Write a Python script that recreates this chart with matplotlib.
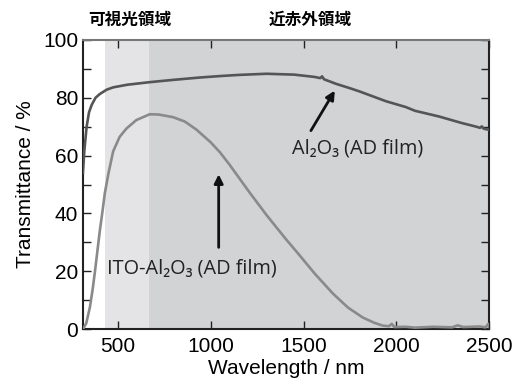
import matplotlib
matplotlib.use('Agg')
import matplotlib.pyplot as plt

# Al2O3 (AD film)
wl_al = [312, 320, 332, 345, 359, 380, 403, 440, 475, 550, 672, 800, 941, 1049, 1150,
         1300, 1450, 1560, 1590, 1600, 1610, 1676, 1750, 1801, 1944, 2050, 2100, 2231,
         2350, 2430, 2450, 2460, 2470, 2500]
t_al = [54, 62, 70, 75, 77.5, 80, 81.3, 82.8, 83.6, 84.5, 85.4, 86.2, 87.0, 87.5, 87.9,
        88.3, 88.0, 87.2, 86.8, 87.4, 86.4, 84.8, 83.3, 82.2, 78.8, 76.8, 75.5, 73.5,
        71.3, 70.0, 69.6, 70.1, 69.3, 68.9]

# ITO-Al2O3 (AD film)
wl_ito = [312, 330, 350, 365, 377, 390, 403, 418, 430, 450, 475, 510, 547, 600, 672, 720,
          797, 860, 923, 1000, 1049, 1100, 1156, 1210, 1300, 1400, 1479, 1560, 1658, 1740,
          1819, 1880, 1926, 1960, 1975, 1990, 2050, 2100, 2200, 2300, 2330, 2360, 2450,
          2480, 2495, 2500]
t_ito = [0, 2, 7.7, 14, 20, 27, 34, 41, 47, 54, 61.5, 66.5, 69.4, 72.3, 74.3, 74.2,
         73.3, 71.8, 69.0, 64.6, 61.2, 57.0, 52.0, 47.2, 39.5, 31.5, 25.5, 19.2, 12.3, 7.4,
         4.0, 2.2, 1.2, 1.0, 1.8, 0.7, 0.8, 0.5, 0.8, 0.6, 1.3, 0.7, 0.9,
         0.6, 1.8, 0.8]

vis_range = (430, 670)
nir_range = (670, 2500)

fig = plt.figure(figsize=(5.15, 3.84), dpi=100)
ax = fig.add_axes([0.161, 0.143, 0.789, 0.753])

ax.axvspan(*vis_range, color='#e4e4e6', lw=0, zorder=0)
ax.axvspan(*nir_range, color='#d2d3d5', lw=0, zorder=0)

ax.plot(wl_al, t_al, color='#555555', lw=1.9, zorder=3)
ax.plot(wl_ito, t_ito, color='#8a8a8a', lw=1.9, zorder=3)

ax.set_xlim(312, 2500)
ax.set_ylim(0, 100)
ax.set_xticks([500, 1000, 1500, 2000, 2500])
ax.set_yticks([0, 20, 40, 60, 80, 100])
ax.set_yticks(range(10, 100, 20), minor=True)
ax.tick_params(which='both', direction='in', top=True, right=True,
               labelsize=15, length=6, width=1, color='#222222')
ax.tick_params(axis='x', pad=6)
for lab in ax.get_xticklabels() + ax.get_yticklabels():
    lab.set_fontfamily('Liberation Sans')
for s in ax.spines.values():
    s.set_linewidth(1.5)
    s.set_color('#222222')
ax.spines['top'].set_color('#777777')

ax.set_xlabel('Wavelength / nm', fontsize=15, family='Liberation Sans', labelpad=2)
ax.set_ylabel('Transmittance / %', fontsize=15, family='Liberation Sans', labelpad=6)

ann_font = ['Open Sans', 'DejaVu Sans']
ax.annotate('', xy=(1676, 83.3), xytext=(1532, 67.8),
            arrowprops=dict(arrowstyle='-|>', color='#111111', lw=2, mutation_scale=13), zorder=4)
ax.text(1436, 62.3, 'Al₂O₃ (AD film)', fontsize=14.3, family=ann_font, va='center',
        color='#222222', zorder=4)
ax.annotate('', xy=(1043, 54.5), xytext=(1043, 27.3),
            arrowprops=dict(arrowstyle='-|>', color='#111111', lw=2, mutation_scale=13), zorder=4)
ax.text(441, 21, 'ITO-Al₂O₃ (AD film)', fontsize=14.3, family=ann_font, va='center',
        color='#222222', zorder=4)

jp_font = ['Noto Sans CJK JP', 'DejaVu Sans']
fig.text(130 / 515, 1 - 20 / 384, '可視光領域', fontsize=12, weight='bold',
         family=jp_font, ha='center', va='center')
fig.text(310 / 515, 1 - 20 / 384, '近赤外領域', fontsize=12, weight='bold',
         family=jp_font, ha='center', va='center')

fig.savefig('out.png', dpi=100)
